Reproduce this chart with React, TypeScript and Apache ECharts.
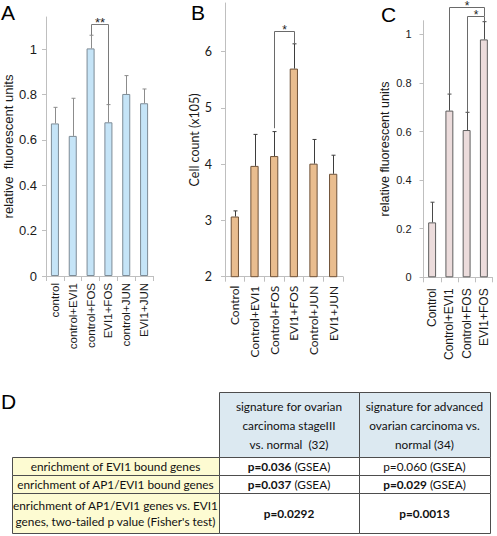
import React, { useEffect, useRef } from 'react';
import * as echarts from 'echarts';

// ---------- Panel A ----------
const catA = ['control', 'control+EVI1', 'control+FOS', 'EVI1+FOS', 'control+JUN', 'EVI1+JUN'];
const valA = [0.673, 0.618, 1.004, 0.678, 0.803, 0.762];
const sdA = [0.071, 0.166, 0.058, 0.078, 0.081, 0.063];
const ticksA = [0, 0.2, 0.4, 0.6, 0.8, 1];
// [fromIdx, toIdx, bracketY, leftLegEnd, rightLegEnd]
const bracketA = [[2, 3, 1.11, 1.062, 0.756]];
const starsA = ['**'];

// ---------- Panel B ----------
const catB = ['Control', 'Control+EVI1', 'Control+FOS', 'EVI1+FOS', 'Control+JUN', 'EVI1+JUN'];
const valB = [3.07, 3.97, 4.145, 5.70, 4.01, 3.83];
const sdB = [0.10, 0.56, 0.435, 0.44, 0.43, 0.33];
const ticksB = [2, 3, 4, 5, 6];
const bracketB = [[2, 3, 6.37, 4.64, 6.14]];
const starsB = ['*'];

// ---------- Panel C ----------
const catC = ['Control', 'Control+EVI1', 'Control+FOS', 'EVI1+FOS'];
const valC = [0.226, 0.686, 0.606, 0.979];
const sdC = [0.083, 0.068, 0.073, 0.073];
const ticksC = [0, 0.2, 0.4, 0.6, 0.8, 1];
const bracketC = [[1, 3, 1.111, 0.754, 1.075], [2, 3, 1.077, 0.679, 1.055]];
const starsC = ['*', '*'];

// ---------- Panel D (table) ----------
const headerCol1 = ['signature for ovarian', 'carcinoma stageIII', 'vs. normal  (32)'];
const headerCol2 = ['signature for advanced', 'ovarian carcinoma vs.', 'normal (34)'];
const rowLabels = [
  'enrichment of EVI1 bound genes',
  'enrichment of AP1/EVI1 bound genes',
  "enrichment of AP1/EVI1 genes vs. EVI1\ngenes, two-tailed p value (Fisher's test)",
];
const cellsCol1 = ['{b|p=0.036} (GSEA)', '{b|p=0.037} (GSEA)', '{b|p=0.0292}'];
const cellsCol2 = ['p=0.060 (GSEA)', '{b|p=0.029} (GSEA)', '{b|p=0.0013}'];

const ARIAL = 'Liberation Sans, Arial, sans-serif';
const CAL = 'Lato, sans-serif';

function errorSeries(g: number, vals: number[], sds: number[], color: string) {
  return {
    type: 'custom',
    xAxisIndex: g,
    yAxisIndex: g,
    clip: false,
    z: 3,
    silent: true,
    data: vals.map((v, i) => [i, v, v + sds[i]]),
    renderItem: (params: any, api: any) => {
      const p0 = api.coord([api.value(0), api.value(1)]);
      const p1 = api.coord([api.value(0), api.value(2)]);
      const x = Math.round(p0[0]) + 0.5;
      return {
        type: 'group',
        children: [
          { type: 'line', shape: { x1: x, y1: p0[1], x2: x, y2: p1[1] }, style: { stroke: color, lineWidth: 1 } },
          { type: 'line', shape: { x1: x - 2, y1: p1[1], x2: x + 2, y2: p1[1] }, style: { stroke: color, lineWidth: 1 } },
        ],
      };
    },
  };
}

function bracketSeries(g: number, br: number[][], stars: string[], color: string, fontSize: number) {
  return {
    type: 'custom',
    xAxisIndex: g,
    yAxisIndex: g,
    clip: false,
    z: 4,
    silent: true,
    encode: { x: 0, y: 2 },
    data: br,
    renderItem: (params: any, api: any) => {
      const i = params.dataIndex;
      const b = br[i];
      const pTop1 = api.coord([b[0], b[2]]);
      const pTop2 = api.coord([b[1], b[2]]);
      const pL = api.coord([b[0], b[3]]);
      const pR = api.coord([b[1], b[4]]);
      const x1 = Math.round(pTop1[0]) + 0.5;
      const x2 = Math.round(pTop2[0]) + 0.5;
      const y = Math.round(pTop1[1]) + 0.5;
      return {
        type: 'group',
        children: [
          {
            type: 'polyline',
            shape: { points: [[x1, pL[1]], [x1, y], [x2, y], [x2, pR[1]]] },
            style: { stroke: color, lineWidth: 1, fill: 'none' },
          },
          {
            type: 'text',
            style: {
              text: stars[i],
              x: (x1 + x2) / 2,
              y: y + 4,
              align: 'center',
              verticalAlign: 'bottom',
              fontSize,
              fontFamily: ARIAL,
              fill: '#222',
            },
          },
        ],
      };
    },
  };
}

function xAxisCfg(g: number, cats: string[], fontSize: number, family: string, margin: number) {
  return {
    type: 'category',
    gridIndex: g,
    data: cats,
    axisLine: { lineStyle: { color: '#bfbfbf', width: 1 } },
    axisTick: { show: true, length: 5, lineStyle: { color: '#bfbfbf' } },
    axisLabel: { rotate: 90, interval: 0, fontSize, fontFamily: family, color: '#1a1a1a', margin },
  };
}

function yAxisCfg(
  g: number, min: number, max: number, interval: number, ticks: number[],
  name: string, nameGap: number, nameSize: number, labelSize: number, family: string, margin: number,
) {
  return {
    type: 'value',
    gridIndex: g,
    min,
    max,
    interval,
    name,
    nameLocation: 'middle',
    nameGap,
    nameTextStyle: { fontSize: nameSize, fontFamily: family, color: '#1a1a1a' },
    axisLine: { show: true, lineStyle: { color: '#bfbfbf', width: 1 } },
    axisTick: { show: true, length: 4, lineStyle: { color: '#bfbfbf' }, customValues: ticks },
    axisLabel: { fontSize: labelSize, fontFamily: family, color: '#1a1a1a', margin, customValues: ticks },
    splitLine: { show: false },
  };
}

export default function App() {
  const ref = useRef<HTMLDivElement>(null);
  useEffect(() => {
    document.body.style.margin = '0';
    const chart = echarts.init(ref.current!, null, { renderer: 'svg' });

    // table geometry
    const L0 = 12, L1 = 219, C1 = 359, C2 = 490;
    const H0 = 392, H1 = 457, R1 = 475, R2 = 493, R3 = 533;
    const border = '#4d4d4d';
    const rect = (x: number, y: number, w: number, h: number, fill: string) => ({
      type: 'rect', shape: { x: x + 0.5, y: y + 0.5, width: w, height: h },
      style: { fill, stroke: border, lineWidth: 1 }, silent: true,
    });
    const txt = (x: number, y: number, text: string, extra: any = {}) => ({
      type: 'text', silent: true,
      style: {
        x, y, text, align: 'center', verticalAlign: 'middle',
        fontSize: 11.8, fontFamily: CAL, fill: '#111',
        rich: { b: { fontWeight: 'bold', fontSize: 11.8, fontFamily: CAL, fill: '#111' } },
        ...extra,
      },
    });
    const rowsY = [H1, R1, R2, R3];
    const graphics: any[] = [];
    graphics.push(rect(L1, H0, C1 - L1, H1 - H0, '#dce9f1'));
    graphics.push(rect(C1, H0, C2 - C1, H1 - H0, '#dce9f1'));
    for (let r = 0; r < 3; r++) {
      const y0 = rowsY[r], y1 = rowsY[r + 1];
      graphics.push(rect(L0, y0, L1 - L0, y1 - y0, '#fdfbd2'));
      graphics.push(rect(L1, y0, C1 - L1, y1 - y0, '#ffffff'));
      graphics.push(rect(C1, y0, C2 - C1, y1 - y0, '#ffffff'));
      const cy = (y0 + y1) / 2 + 0.5;
      graphics.push(txt((L0 + L1) / 2, cy, rowLabels[r], { lineHeight: 16 }));
      graphics.push(txt((L1 + C1) / 2, cy, cellsCol1[r]));
      graphics.push(txt((C1 + C2) / 2, cy, cellsCol2[r]));
    }
    graphics.push(txt((L1 + C1) / 2, (H0 + H1) / 2 + 0.5, headerCol1.join('\n'), { lineHeight: 19 }));
    graphics.push(txt((C1 + C2) / 2, (H0 + H1) / 2 + 0.5, headerCol2.join('\n'), { lineHeight: 19 }));

    const letter = (x: number, y: number, t: string) => ({
      type: 'text', silent: true,
      style: { x, y, text: t, fontSize: 21, fontFamily: ARIAL, fill: '#000', align: 'left', verticalAlign: 'top' },
    });
    graphics.push(letter(1, 2, 'A'));
    graphics.push(letter(191, 2, 'B'));
    graphics.push(letter(381, 4, 'C'));
    graphics.push(letter(1, 391, 'D'));

    chart.setOption({
      animation: false,
      backgroundColor: '#ffffff',
      grid: [
        { left: 46, top: 17, width: 107, height: 259, outerBoundsMode: 'none' },
        { left: 225, top: 3, width: 118, height: 273.7, outerBoundsMode: 'none' },
        { left: 423.5, top: 20.7, width: 69, height: 256.6, outerBoundsMode: 'none' },
      ],
      xAxis: [
        xAxisCfg(0, catA, 11.5, ARIAL, 7),
        xAxisCfg(1, catB, 12, CAL, 9),
        xAxisCfg(2, catC, 12, ARIAL, 11),
      ],
      yAxis: [
        yAxisCfg(0, 0, 1.1425, 0.2, ticksA, 'relative  fluorescent units', 28, 13, 13, ARIAL, 9),
        yAxisCfg(1, 2, 6.866, 1, ticksB, 'Cell count (x105)', 18, 12.5, 12.5, CAL, 13),
        yAxisCfg(2, 0, 1.056, 0.2, ticksC, 'relative fluorescent units', 32, 12.5, 11, ARIAL, 12),
      ],
      series: [
        {
          type: 'bar', xAxisIndex: 0, yAxisIndex: 0, data: valA, barWidth: '45%',
          itemStyle: { color: '#c5e4f7', borderColor: '#7d8b96', borderWidth: 1 },
          silent: true,
        },
        errorSeries(0, valA, sdA, '#8c8c8c'),
        bracketSeries(0, bracketA, starsA, '#7a7a7a', 13),
        {
          type: 'bar', xAxisIndex: 1, yAxisIndex: 1, data: valB, barWidth: '42%',
          itemStyle: { color: '#e9bd8f', borderColor: '#6f5238', borderWidth: 1 },
          silent: true,
        },
        errorSeries(1, valB, sdB, '#3d3d3d'),
        bracketSeries(1, bracketB, starsB, '#6a6a6a', 12),
        {
          type: 'bar', xAxisIndex: 2, yAxisIndex: 2, data: valC, barWidth: '46%',
          itemStyle: { color: '#ecdcdc', borderColor: '#5e5e5e', borderWidth: 1 },
          silent: true,
        },
        errorSeries(2, valC, sdC, '#4a4a4a'),
        bracketSeries(2, bracketC, starsC, '#6a6a6a', 12),
      ],
      graphic: graphics,
    });
    return () => chart.dispose();
  }, []);
  return <div ref={ref} style={{ width: 497, height: 536 }} />;
}
